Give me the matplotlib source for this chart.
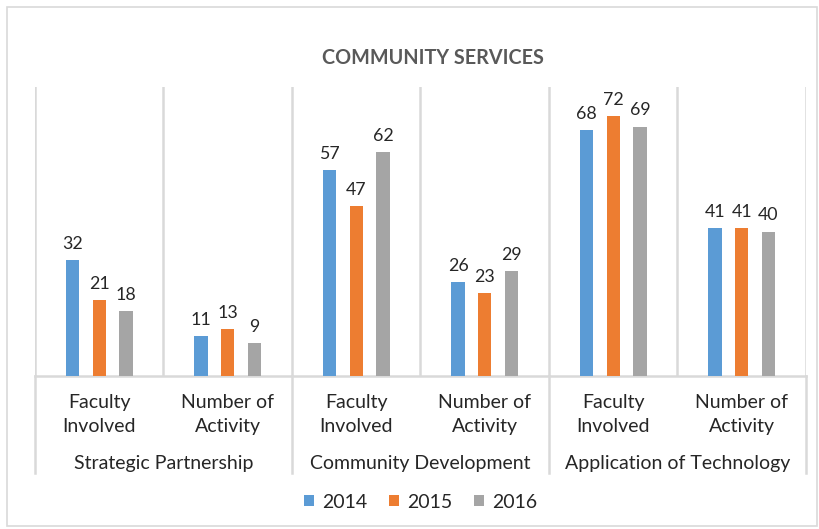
import matplotlib
matplotlib.use("Agg")
import matplotlib.pyplot as plt
import matplotlib.transforms as mtransforms
from matplotlib.patches import Rectangle
import numpy as np

plt.rcParams['font.family'] = ['Lato', 'DejaVu Sans']

groups = ["Strategic Partnership", "Community Development", "Application of Technology"]
subcats = ["Faculty\nInvolved", "Number of\nActivity"]
years = ["2014", "2015", "2016"]
v2014 = [32, 11, 57, 26, 68, 41]
v2015 = [21, 13, 47, 23, 72, 41]
v2016 = [18, 9, 62, 29, 69, 40]
colors = ["#5B9BD5", "#ED7D31", "#A5A5A5"]
title = "COMMUNITY SERVICES"

fig = plt.figure(figsize=(8.2, 5.29), dpi=100)
ax = fig.add_axes([35/820, 1-376/529, (806-35)/820, (376-87)/529])

n = len(v2014)
x = np.arange(n)
offsets = [-0.208, 0.0, 0.208]
width = 0.102
series = [v2014, v2015, v2016]
for s, off, c, lab in zip(series, offsets, colors, years):
    bars = ax.bar(x + off, s, width=width, color=c, label=lab, zorder=3)
    for b, v in zip(bars, s):
        ax.annotate(str(v), (b.get_x() + b.get_width()/2, b.get_height()),
                    xytext=(0, 6), textcoords="offset points",
                    ha="center", va="bottom", fontsize=12.8, color="#262626")

ax.set_xlim(-0.5, n - 0.5)
ax.set_ylim(0, 80)
ax.set_yticks([])
for sp in ["top", "right", "left"]:
    ax.spines[sp].set_visible(False)
ax.spines["bottom"].set_color("#D9D9D9")
ax.spines["bottom"].set_linewidth(1.8)

grid_color = "#D9D9D9"
for b in np.arange(-0.5, n, 1.0):
    ax.axvline(b, color=grid_color, lw=1.8, zorder=1)

trans = mtransforms.blended_transform_factory(ax.transData, ax.transAxes)
for b in np.arange(-0.5, n, 2.0):
    ax.plot([b, b], [0, -97/289], color=grid_color, lw=1.8, transform=trans, clip_on=False)

ax.set_xticks(x)
ax.set_xticklabels(subcats * len(groups), fontsize=14, color="#262626", linespacing=1.5)
ax.tick_params(axis="x", length=0, pad=13)

for gi, g in enumerate(groups):
    ax.text(2*gi + 0.5, -87/289, g, transform=trans, ha="center", va="center",
            fontsize=14, color="#262626")

fig.text(0.528, 1-58/529, title, ha="center", va="center", fontsize=14.2,
         fontweight="bold", color="#595959")

leg = ax.legend(loc="center", bbox_to_anchor=(0.5, -126/289), ncol=3, frameon=False,
                fontsize=14, handlelength=0.55, handleheight=0.55, handletextpad=0.4,
                columnspacing=1.1)
for t in leg.get_texts():
    t.set_color("#262626")

fig.patches.append(Rectangle((7/820, 1-526/529), (817-7)/820, (526-7)/529,
                             transform=fig.transFigure, fill=False,
                             edgecolor="#D9D9D9", lw=1.2))

fig.savefig("out.png", dpi=100)
